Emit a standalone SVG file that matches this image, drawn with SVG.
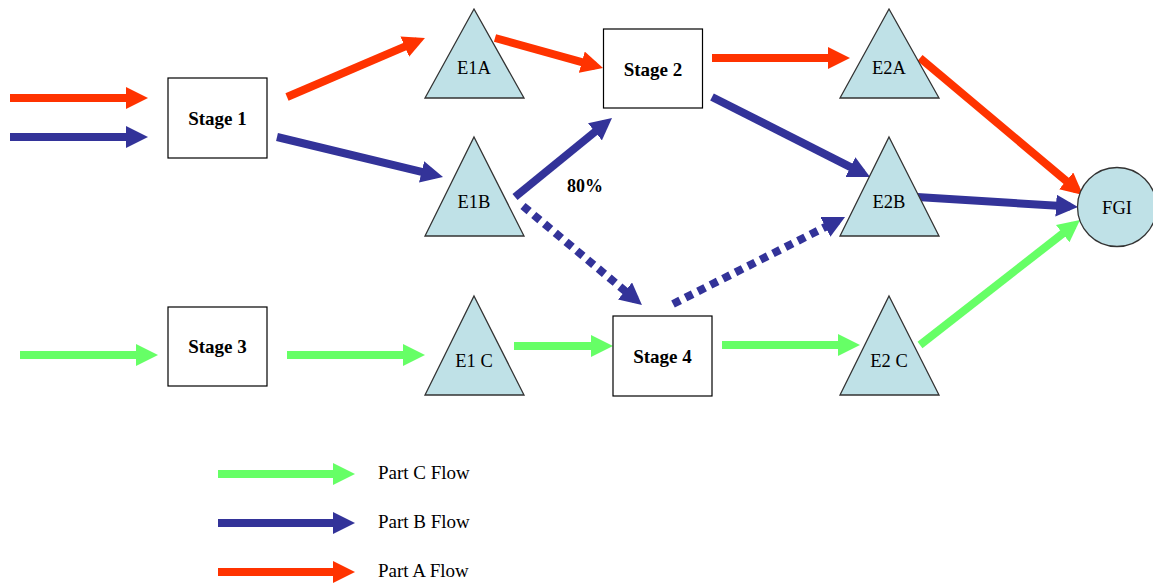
<svg xmlns="http://www.w3.org/2000/svg" width="1153" height="586" viewBox="0 0 1153 586">
  <defs>
    <style>
      .stage { fill: #ffffff; stroke: #000000; stroke-width: 1.2; }
      .store { fill: #bfe1e7; stroke: #333333; stroke-width: 1.3; }
      .stage-label { font-family: "Liberation Serif", "Times New Roman", serif; font-weight: bold; font-size: 19px; text-anchor: middle; fill: #000000; }
      .store-label { font-family: "Liberation Serif", "Times New Roman", serif; font-size: 18.5px; text-anchor: middle; fill: #000000; }
      .legend-label { font-family: "Liberation Serif", "Times New Roman", serif; font-size: 19px; fill: #000000; }
      .flow { fill: none; stroke-width: 8; stroke-linecap: butt; }
      .part-a { stroke: #ff3300; marker-end: url(#head-a); }
      .part-b { stroke: #333399; marker-end: url(#head-b); }
      .part-c { stroke: #66ff66; marker-end: url(#head-c); }
      .dashed { stroke-dasharray: 8 6; }
    </style>
    <marker id="head-a" viewBox="0 0 22 22" markerWidth="22" markerHeight="22" markerUnits="userSpaceOnUse" refX="14" refY="11" orient="auto">
      <path d="M0,0 L22,11 L0,22 Z" fill="#ff3300"/>
    </marker>
    <marker id="head-b" viewBox="0 0 22 22" markerWidth="22" markerHeight="22" markerUnits="userSpaceOnUse" refX="14" refY="11" orient="auto">
      <path d="M0,0 L22,11 L0,22 Z" fill="#333399"/>
    </marker>
    <marker id="head-c" viewBox="0 0 22 22" markerWidth="22" markerHeight="22" markerUnits="userSpaceOnUse" refX="14" refY="11" orient="auto">
      <path d="M0,0 L22,11 L0,22 Z" fill="#66ff66"/>
    </marker>
  </defs>

  <rect width="1153" height="586" fill="#ffffff"/>

  <!-- flows between stages and stores -->
  <g id="connectors">
    <!-- Part A -->
    <path class="flow part-a" d="M10,98 L140,98"/>
    <path class="flow part-a" d="M287,97 L417.6,41.1"/>
    <path class="flow part-a" d="M495,38 L595.3,65.9"/>
    <path class="flow part-a" d="M712,58 L842,58"/>
    <path class="flow part-a" d="M920,58 L1076.9,189.9"/>
    <!-- Part B -->
    <path class="flow part-b" d="M10,137 L140,137"/>
    <path class="flow part-b" d="M277,137 L435.2,175.1"/>
    <path class="flow part-b" d="M515,197 L605.8,123"/>
    <path class="flow part-b" d="M712,97 L862.9,173.4"/>
    <path class="flow part-b" d="M917,197 L1070,206.5"/>
    <path class="flow part-b dashed" d="M523,206 L635.8,299.9"/>
    <path class="flow part-b dashed" d="M673,304 L837.9,220.6"/>
    <!-- Part C -->
    <path class="flow part-c" d="M20,355 L150,355"/>
    <path class="flow part-c" d="M287,355 L417,355"/>
    <path class="flow part-c" d="M514,346 L605,346"/>
    <path class="flow part-c" d="M722,345 L852,345"/>
    <path class="flow part-c" d="M920,345 L1073.7,225"/>
  </g>

  <text x="585" y="192" class="stage-label" style="font-size:18px">80%</text>

  <g id="stage1">
    <rect class="stage" x="168" y="78" width="99" height="80"/>
    <text class="stage-label" x="217.5" y="125">Stage 1</text>
  </g>
  <g id="stage2">
    <rect class="stage" x="603.5" y="29" width="99" height="79"/>
    <text class="stage-label" x="653" y="76">Stage 2</text>
  </g>
  <g id="stage3">
    <rect class="stage" x="168" y="307" width="99" height="79"/>
    <text class="stage-label" x="217.5" y="353">Stage 3</text>
  </g>
  <g id="stage4">
    <rect class="stage" x="613" y="316" width="99" height="80"/>
    <text class="stage-label" x="662.5" y="363">Stage 4</text>
  </g>

  <g id="e1a">
    <polygon class="store" points="474,9 524,98 425,98"/>
    <text class="store-label" x="474" y="74">E1A</text>
  </g>
  <g id="e1b">
    <polygon class="store" points="474,137 524,236 425,236"/>
    <text class="store-label" x="474" y="208">E1B</text>
  </g>
  <g id="e1c">
    <polygon class="store" points="474,296 524,395 425,395"/>
    <text class="store-label" x="474" y="367">E1 C</text>
  </g>
  <g id="e2a">
    <polygon class="store" points="889,9 939,98 840,98"/>
    <text class="store-label" x="889" y="74">E2A</text>
  </g>
  <g id="e2b">
    <polygon class="store" points="889,137 939,236 840,236"/>
    <text class="store-label" x="889" y="208">E2B</text>
  </g>
  <g id="e2c">
    <polygon class="store" points="889,296 939,395 840,395"/>
    <text class="store-label" x="889" y="367">E2 C</text>
  </g>
  <g id="fgi">
    <circle class="store" cx="1117" cy="207" r="39.5"/>
    <text class="store-label" x="1117" y="214">FGI</text>
  </g>

  <g id="legend">
    <path class="flow part-c" d="M218,474 L347,474"/>
    <text class="legend-label" x="378" y="479">Part C Flow</text>
    <path class="flow part-b" d="M218,523 L347,523"/>
    <text class="legend-label" x="378" y="528">Part B Flow</text>
    <path class="flow part-a" d="M218,572 L347,572"/>
    <text class="legend-label" x="378" y="577">Part A Flow</text>
  </g>
</svg>
